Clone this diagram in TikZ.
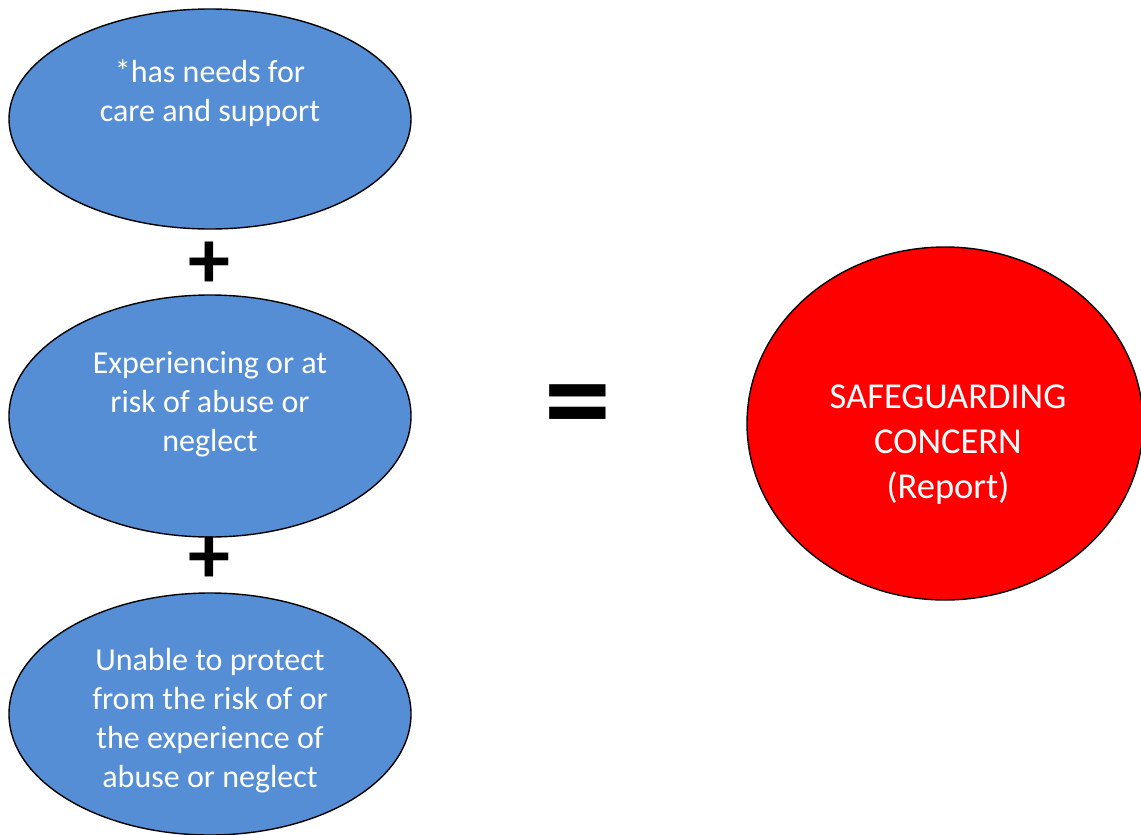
\documentclass[tikz,border=0pt]{standalone}
\usepackage{fontspec}
\setmainfont{Carlito}
\usetikzlibrary{shapes.geometric}
\definecolor{blobblue}{RGB}{85,142,213}
\definecolor{blobred}{RGB}{255,0,0}
\tikzset{
  blob/.style={ellipse, draw=black, line width=1.4pt, fill=blobblue, inner sep=0pt, minimum width=402pt, minimum height=#1},
  blob/.default=220pt,
  redblob/.style={ellipse, draw=black, line width=1.4pt, fill=blobred, inner sep=0pt, minimum width=396pt, minimum height=353pt},
  txt/.style={text=white, align=center, inner sep=0pt, font=\fontsize{32}{39}\selectfont},
  redtxt/.style={text=white, align=center, inner sep=0pt, font=\fontsize{36.5}{45}\selectfont},
  opsign/.style={text=black, inner sep=0pt, font=\fontsize{#1}{#1}\selectfont\bfseries},
}
\begin{document}
\begin{tikzpicture}[x=1pt,y=-1pt]
\useasboundingbox (0,0) rectangle (1141,835);
\fill[white] (0,0) rectangle (1141,835);
\node[blob=220pt] (b1) at (210,119) {};
\node[blob=242pt] (b2) at (210,416) {};
\node[blob=242pt] (b3) at (210,714) {};
\node[redblob] (r) at (945,423.5) {};
\node[txt, anchor=base] (t1) at (210,121) {*has needs for\\care and support};
\node[txt, anchor=base] (t2) at (210,451) {Experiencing or at\\risk of abuse or\\neglect};
\node[txt, anchor=base] (t3) at (210,787) {Unable to protect\\from the risk of or\\the experience of\\abuse or neglect};
\node[redtxt, anchor=base] (rt) at (948,498) {SAFEGUARDING\\CONCERN\\(Report)};
\node[opsign=84] (p1) at (209,265) {+};
\node[opsign=84] (p2) at (209,560) {+};
\node[opsign=134] (eq) at (578,415) {=};
\end{tikzpicture}
\end{document}
